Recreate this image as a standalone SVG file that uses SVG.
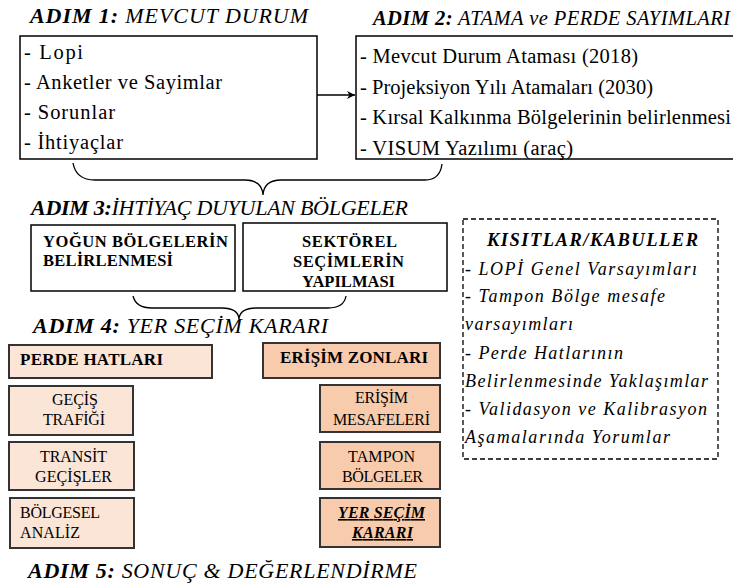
<svg xmlns="http://www.w3.org/2000/svg" width="733" height="587" viewBox="0 0 733 587">
<defs>
<style>
text{font-family:'Liberation Serif','Times New Roman','DejaVu Serif',serif;fill:#000}
.h{font-size:22px;font-style:italic}
.hb{font-weight:bold}
.t{font-size:20.5px}
.b3{font-size:16.5px;font-weight:bold}
.k{font-size:18px;font-style:italic}
.box{fill:#fff;stroke:#000;stroke-width:1.5}
.p1{fill:#fbe5d6;stroke:#333;stroke-width:2}
.p2{fill:#f8cbad;stroke:#333;stroke-width:2}
.s{font-size:16px}
.bb{font-size:17px;font-weight:bold}
.u{font-weight:bold;font-style:italic;text-decoration:underline}
.conn{fill:none;stroke:#000;stroke-width:1.3}
</style>
<marker id="ah" viewBox="0 0 10 10" refX="10" refY="5" markerWidth="8" markerHeight="8" orient="auto" markerUnits="userSpaceOnUse"><path d="M0,0 L10,5 L0,10 L3,5 z" fill="#000"/></marker>
</defs>
<text class="h" x="30" y="23" textLength="278" lengthAdjust="spacing"><tspan class="hb">ADIM 1:</tspan> MEVCUT DURUM</text>
<text class="h" x="373" y="25" textLength="357" lengthAdjust="spacing" style="font-size:20.5px"><tspan class="hb">ADIM 2:</tspan> ATAMA ve PERDE SAYIMLARI</text>
<g id="step1">
<rect class="box" x="20" y="36" width="297" height="123"/>
<text class="t" x="24" y="59" textLength="59" lengthAdjust="spacing">- Lopi</text>
<text class="t" x="24" y="89" textLength="198" lengthAdjust="spacing">- Anketler ve Sayimlar</text>
<text class="t" x="24" y="119" textLength="91" lengthAdjust="spacing">- Sorunlar</text>
<text class="t" x="24" y="149" textLength="99" lengthAdjust="spacing">- İhtiyaçlar</text>
</g>
<g id="step2">
<rect class="box" x="356" y="36" width="380" height="123"/>
<text class="t" x="360" y="63" textLength="278" lengthAdjust="spacing">- Mevcut Durum Ataması (2018)</text>
<text class="t" x="360" y="94" textLength="293" lengthAdjust="spacing">- Projeksiyon Yılı Atamaları (2030)</text>
<text class="t" x="360" y="124" textLength="371" lengthAdjust="spacing">- Kırsal Kalkınma Bölgelerinin belirlenmesi</text>
<text class="t" x="360" y="155" textLength="213" lengthAdjust="spacing">- VISUM Yazılımı (araç)</text>
</g>
<g id="connectors">
<line class="conn" x1="317" y1="95" x2="355" y2="95" marker-end="url(#ah)"/>
<path class="conn" d="M73,163 Q76,180 95,180 L245,180 Q262,180 263,195 Q264,180 281,180 L425,180 Q440,180 442,164"/>
<path class="conn" d="M133,296 Q136,308 152,308 L222,308 Q238,308 239,319 Q240,308 256,308 L328,308 Q344,308 346,296"/>
</g>
<text class="h" x="31" y="215" textLength="377" lengthAdjust="spacing"><tspan class="hb">ADIM 3:</tspan>İHTİYAÇ DUYULAN BÖLGELER</text>
<g id="step3a">
<rect class="box" x="31" y="225" width="204" height="66"/>
<text class="b3" x="43" y="247" textLength="185" lengthAdjust="spacing">YOĞUN BÖLGELERİN</text>
<text class="b3" x="43" y="266" textLength="130" lengthAdjust="spacing">BELİRLENMESİ</text>
</g>
<g id="step3b">
<rect class="box" x="243" y="223" width="204" height="68"/>
<text class="b3" x="302" y="247" textLength="95" lengthAdjust="spacing">SEKTÖREL</text>
<text class="b3" x="293" y="267" textLength="111" lengthAdjust="spacing">SEÇİMLERİN</text>
<text class="b3" x="302" y="287" textLength="93" lengthAdjust="spacing">YAPILMASI</text>
</g>
<g id="constraints">
<rect x="463" y="219" width="255" height="240" fill="#fff" stroke="#000" stroke-width="1.3" stroke-dasharray="5,3"/>
<text x="487" y="246" textLength="211" lengthAdjust="spacing" style="font-size:18.5px;font-weight:bold;font-style:italic">KISITLAR/KABULLER</text>
<text class="k" x="465" y="275" textLength="232" lengthAdjust="spacing">- LOPİ Genel Varsayımları</text>
<text class="k" x="465" y="302" textLength="200" lengthAdjust="spacing">- Tampon Bölge mesafe</text>
<text class="k" x="465" y="330" textLength="108" lengthAdjust="spacing">varsayımları</text>
<text class="k" x="465" y="359" textLength="158" lengthAdjust="spacing">- Perde Hatlarının</text>
<text class="k" x="465" y="387" textLength="243" lengthAdjust="spacing">Belirlenmesinde Yaklaşımlar</text>
<text class="k" x="465" y="415" textLength="242" lengthAdjust="spacing">- Validasyon ve Kalibrasyon</text>
<text class="k" x="465" y="443" textLength="205" lengthAdjust="spacing">Aşamalarında Yorumlar</text>
</g>
<text class="h" x="33" y="333" textLength="295" lengthAdjust="spacing"><tspan class="hb">ADIM 4:</tspan> YER SEÇİM KARARI</text>
<g id="perde">
<rect class="p1" x="9" y="345" width="203" height="33"/>
<text class="bb" x="20" y="365" textLength="143" lengthAdjust="spacing">PERDE HATLARI</text>
</g>
<g id="erisim">
<rect class="p2" x="263" y="343" width="177" height="35"/>
<text class="bb" x="280" y="363" textLength="148" lengthAdjust="spacing">ERİŞİM ZONLARI</text>
</g>
<g id="gecis">
<rect class="p1" x="9" y="386" width="124" height="49"/>
<text class="s" x="52" y="405" textLength="46" lengthAdjust="spacing">GEÇİŞ</text>
<text class="s" x="43" y="425" textLength="62" lengthAdjust="spacing">TRAFİĞİ</text>
</g>
<g id="transit">
<rect class="p1" x="9" y="442" width="125" height="48"/>
<text class="s" x="40" y="462" textLength="67" lengthAdjust="spacing">TRANSİT</text>
<text class="s" x="35" y="482" textLength="77" lengthAdjust="spacing">GEÇİŞLER</text>
</g>
<g id="bolgesel">
<rect class="p1" x="10" y="498" width="124" height="50"/>
<text class="s" x="20" y="518" textLength="80" lengthAdjust="spacing">BÖLGESEL</text>
<text class="s" x="20" y="538" textLength="60" lengthAdjust="spacing">ANALİZ</text>
</g>
<g id="mesafe">
<rect class="p2" x="320" y="385" width="120" height="47"/>
<text class="s" x="355" y="403" textLength="53" lengthAdjust="spacing">ERİŞİM</text>
<text class="s" x="333" y="425" textLength="97" lengthAdjust="spacing">MESAFELERİ</text>
</g>
<g id="tampon">
<rect class="p2" x="320" y="442" width="120" height="47"/>
<text class="s" x="348" y="462" textLength="67" lengthAdjust="spacing">TAMPON</text>
<text class="s" x="342" y="482" textLength="81" lengthAdjust="spacing">BÖLGELER</text>
</g>
<g id="yersecim">
<rect class="p2" x="320" y="498" width="120" height="49"/>
<text class="s u" x="338" y="518" textLength="87" lengthAdjust="spacing">YER SEÇİM</text>
<text class="s u" x="352" y="538" textLength="61" lengthAdjust="spacing">KARARI</text>
</g>
<text class="h" x="28" y="578" textLength="389" lengthAdjust="spacing"><tspan class="hb">ADIM 5:</tspan> SONUÇ &amp; DEĞERLENDİRME</text>
</svg>
